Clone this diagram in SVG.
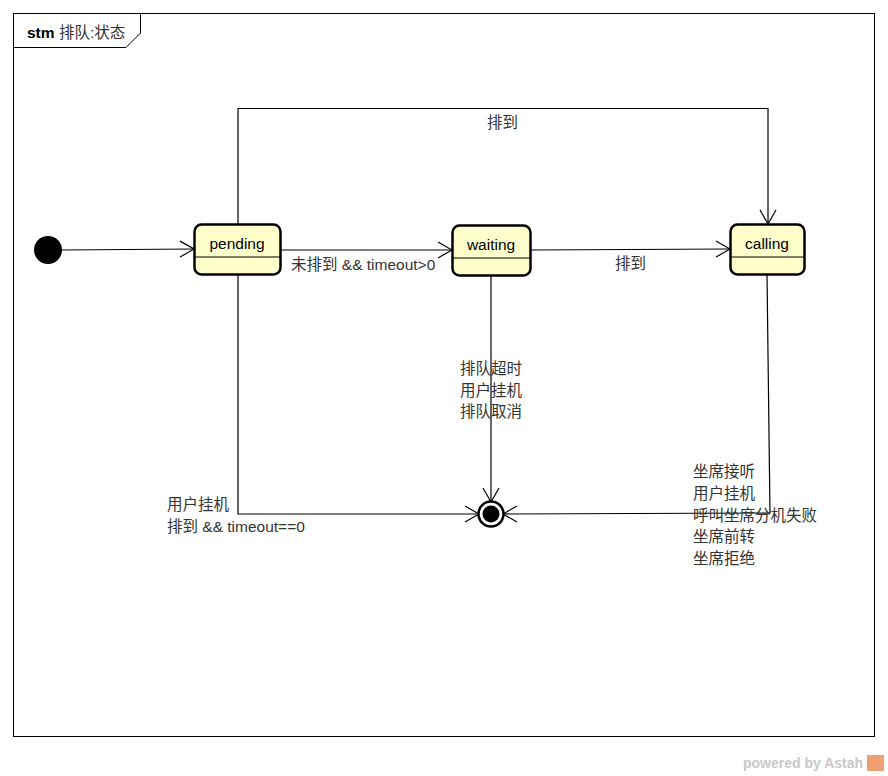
<svg xmlns="http://www.w3.org/2000/svg" width="888" height="776" viewBox="0 0 888 776">
<style>
.frame{fill:#fff;stroke:#000;stroke-width:1}
.state rect.box{fill:#ffffcc;stroke:#000;stroke-width:2.5}
.state line{stroke:#000;stroke-width:1.2}
.name{font-family:"Liberation Sans","Noto Sans CJK SC",sans-serif;font-size:15.5px;fill:#000;text-anchor:middle}
.lbl{font-family:"Liberation Sans","Noto Sans CJK SC",sans-serif;font-size:15.5px;fill:#333}
.conn path{fill:none;stroke:#000;stroke-width:1.2}
</style>
<defs>
<marker id="arr" viewBox="0 0 16 18" refX="15" refY="9" markerWidth="16" markerHeight="18" markerUnits="userSpaceOnUse" orient="auto">
<path d="M1,1 L15,9 L1,17" fill="none" stroke="#000" stroke-width="1.2"/>
</marker>
</defs>
<rect x="0" y="0" width="888" height="776" fill="#fff"/>
<g id="frame">
<rect class="frame" x="13.5" y="13.5" width="861" height="723"/>
<path d="M13.5,47.5 H126 L140.5,33 V13.5" fill="none" stroke="#000" stroke-width="1"/>
<text x="27" y="38" font-family="Liberation Sans,'Noto Sans CJK SC',sans-serif" font-size="15.5" fill="#000"><tspan font-weight="bold">stm</tspan> <tspan fill="#333">排队:状态</tspan></text>
</g>
<g id="connectors" class="conn">
<path d="M62,250 L194,249" marker-end="url(#arr)"/>
<path d="M281,250 L452,250" marker-end="url(#arr)"/>
<path d="M530,250 L730,249" marker-end="url(#arr)"/>
<path d="M238,224 V108.5 H768 V224" marker-end="url(#arr)"/>
<path d="M491,275 V502" marker-end="url(#arr)"/>
<path d="M238,274 V514 H479" marker-end="url(#arr)"/>
<path d="M767,274 L770,513 L503,514" marker-end="url(#arr)"/>
<text class="lbl" x="291" y="270">未排到 &amp;&amp; timeout&gt;0</text>
<text class="lbl" x="615" y="269">排到</text>
<text class="lbl" x="487" y="128">排到</text>
<text class="lbl" x="460" y="374">排队超时</text>
<text class="lbl" x="460" y="396">用户挂机</text>
<text class="lbl" x="460" y="417">排队取消</text>
<text class="lbl" x="167" y="510">用户挂机</text>
<text class="lbl" x="167" y="532">排到 &amp;&amp; timeout==0</text>
<text class="lbl" x="693" y="477">坐席接听</text>
<text class="lbl" x="693" y="499">用户挂机</text>
<text class="lbl" x="693" y="521">呼叫坐席分机失败</text>
<text class="lbl" x="693" y="542">坐席前转</text>
<text class="lbl" x="693" y="564">坐席拒绝</text>
</g>
<g id="initial">
<circle cx="48" cy="250" r="14" fill="#000"/>
</g>
<g id="pending" class="state">
<rect class="box" x="194.5" y="224.5" width="86" height="50" rx="7"/>
<line x1="195" y1="257" x2="280" y2="257"/>
<text class="name" x="237" y="249">pending</text>
</g>
<g id="waiting" class="state">
<rect class="box" x="452.5" y="225.5" width="78" height="50" rx="7"/>
<line x1="453" y1="258" x2="530" y2="258"/>
<text class="name" x="491" y="250">waiting</text>
</g>
<g id="calling" class="state">
<rect class="box" x="730.5" y="224.5" width="74" height="50" rx="7"/>
<line x1="731" y1="257" x2="804" y2="257"/>
<text class="name" x="767" y="249">calling</text>
</g>
<g id="final">
<circle cx="491" cy="514" r="12.5" fill="#fff" stroke="#000" stroke-width="2.5"/>
<circle cx="491" cy="514" r="8.5" fill="#000"/>
</g>
<g id="watermark">
<text x="743" y="768" font-family="Liberation Sans,sans-serif" font-size="14" font-weight="bold" fill="#c8c8c8">powered by Astah</text>
<rect x="867" y="755" width="17" height="16" fill="#f0a070"/>
</g>
</svg>
